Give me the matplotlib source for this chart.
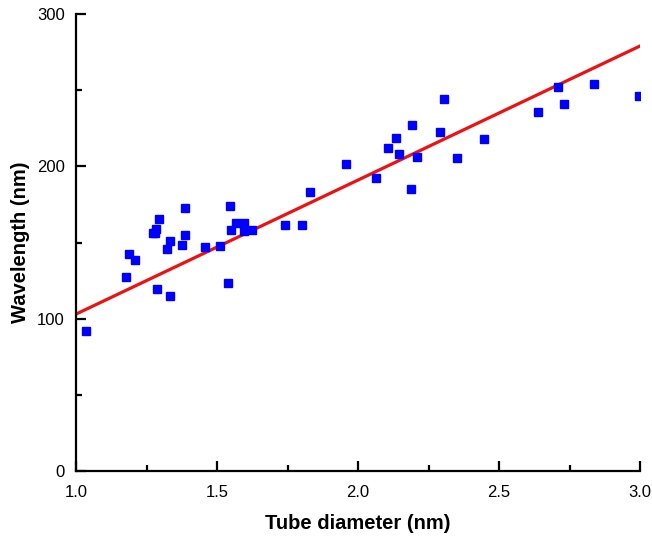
import matplotlib.pyplot as plt
from matplotlib.ticker import MultipleLocator
import numpy as np

plt.rcParams['font.family'] = ['Liberation Sans', 'DejaVu Sans']

# tube diameter (nm) and wavelength (nm)
diameter = [1.036, 1.178, 1.188, 1.208, 1.287, 1.332, 1.274, 1.284, 1.279, 1.294,
            1.332, 1.322, 1.376, 1.387, 1.387, 1.456, 1.512, 1.538, 1.546, 1.551,
            1.567, 1.595, 1.597, 1.623, 1.742, 1.802, 1.828, 1.957, 2.064, 2.106,
            2.136, 2.146, 2.191, 2.188, 2.210, 2.292, 2.306, 2.351, 2.448, 2.638,
            2.709, 2.730, 2.837, 2.998]
wavelength = [91.9, 127.6, 142.3, 138.5, 119.5, 114.7, 156.5, 158.9, 156.0, 165.2,
              151.2, 145.8, 148.6, 154.9, 172.9, 147.3, 147.7, 123.4, 174.2, 158.4,
              162.6, 163.0, 157.4, 158.0, 161.3, 161.7, 183.0, 201.3, 192.6, 212.0,
              218.8, 208.3, 227.0, 185.3, 206.4, 222.8, 244.2, 205.7, 218.0, 235.7,
              252.3, 241.2, 254.1, 246.2]

# fitted line end points
fit_x = [1.0, 3.0]
fit_y = [103, 279]

fig = plt.figure(figsize=(6.52, 5.37), dpi=100)
ax = fig.add_axes([0.1166, 0.1229, 0.865, 0.851])

ax.plot(fit_x, fit_y, color='#ee1111', lw=2.3, zorder=2)
ax.plot(diameter, wavelength, 's', color='#0000ff', ms=6, mec='#0000ff', zorder=3)

ax.set_xlim(1.0, 3.0)
ax.set_ylim(0, 300)
ax.xaxis.set_major_locator(MultipleLocator(0.5))
ax.xaxis.set_minor_locator(MultipleLocator(0.25))
ax.yaxis.set_major_locator(MultipleLocator(100))
ax.yaxis.set_minor_locator(MultipleLocator(50))
ax.xaxis.set_major_formatter(plt.FormatStrFormatter('%.1f'))

for s in ['top', 'right']:
    ax.spines[s].set_visible(False)
for s in ['left', 'bottom']:
    ax.spines[s].set_linewidth(1.6)

ax.tick_params(which='major', direction='in', length=7, width=1.6, labelsize=12)
ax.tick_params(which='minor', direction='in', length=4, width=1.6)
ax.tick_params(axis='x', which='major', pad=10)
ax.tick_params(axis='y', which='major', pad=8)

ax.set_xlabel('Tube diameter (nm)', fontsize=14.5, fontweight='bold', labelpad=10)
ax.set_ylabel('Wavelength (nm)', fontsize=14.5, fontweight='bold', labelpad=5)

fig.savefig('out.png', dpi=100)
